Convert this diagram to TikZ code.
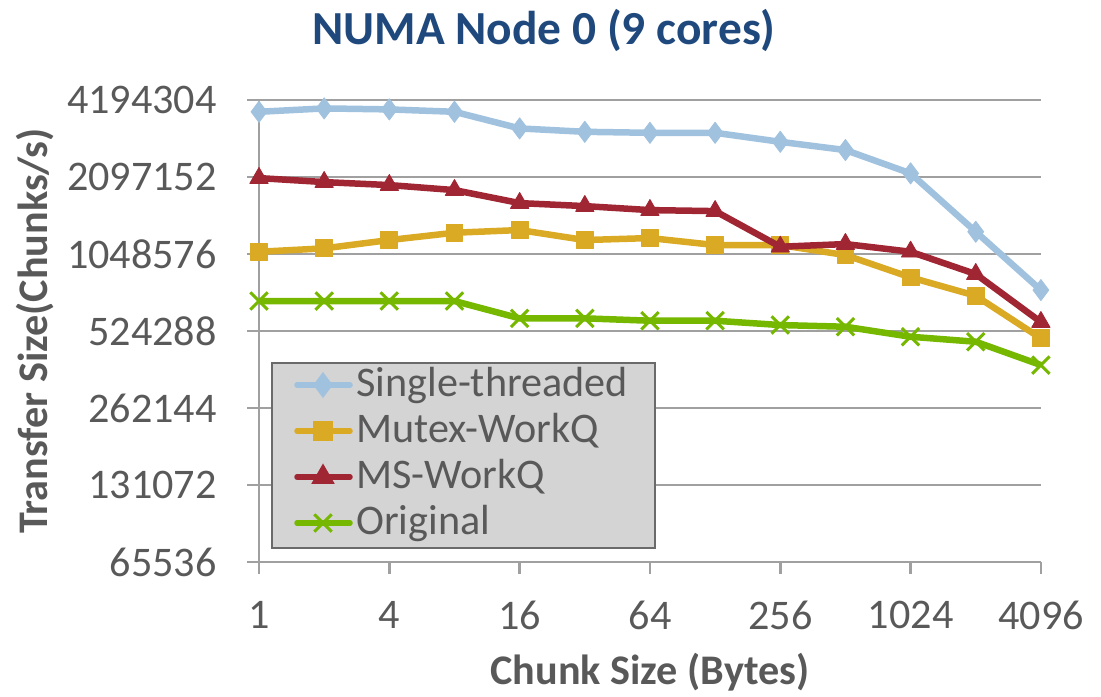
\documentclass[tikz,border=0pt]{standalone}
\usepackage{fontspec}
\setmainfont{Carlito}
\usetikzlibrary{plotmarks}

\definecolor{singlecol}{HTML}{A0C2DE}
\definecolor{mutexcol}{HTML}{DAAA24}
\definecolor{mscol}{HTML}{A02633}
\definecolor{origcol}{HTML}{76B800}
\definecolor{gridcol}{HTML}{A0A0A0}
\definecolor{labelcol}{HTML}{595959}
\definecolor{titlecol}{HTML}{1F497D}
\definecolor{legendfill}{HTML}{D4D4D4}
\definecolor{legendedge}{HTML}{6A6A6A}

\tikzset{
	gridline/.style={draw=gridcol, line width=0.05cm},
	ticklabel/.style={text=labelcol, font=\fontsize{24}{28}\selectfont, inner sep=0pt},
	axistitle/.style={text=labelcol, font=\fontsize{24}{28}\selectfont\bfseries, inner sep=0pt},
	series/.style={line width=0.13cm, line join=round, color=#1,
		mark options={solid, fill=#1, draw=#1, line width=0.5pt}},
}

\begin{document}
\begin{tikzpicture}[x=0.02cm, y=-0.02cm]
	
	\useasboundingbox (0,0) rectangle (1101,696);
	
	\node[text=titlecol, font=\fontsize{27}{30}\selectfont\bfseries, inner sep=0pt] (title) at (544,30) {NUMA Node 0 (9 cores)};
	
	\foreach \v [count=\k from 0] in {65536,131072,262144,524288,1048576,2097152,4194304} {
		\draw[gridline] (247,562-77*\k) -- (1041,562-77*\k);
		\node[ticklabel, anchor=east] (ylab\k) at (217,562-77*\k) {\v};
	}
	\draw[gridline] (259,100) -- (259,574);
	\foreach \v [count=\k from 0] in {1,4,16,64,256,1024,4096} {
		\draw[gridline] (259+130.33*\k,562) -- (259+130.33*\k,574);
		\node[ticklabel] (xlab\k) at (259+130.33*\k,615) {\v};
	}
	
	\node[axistitle] (xtitle) at (650,672) {Chunk Size (Bytes)};
	\node[axistitle, rotate=90] (ytitle) at (35,331) {Transfer Size(Chunks/s)};
	
	\begin{scope}[shift={(259,562)}, x=1.3034cm, y=1.54cm]
		\draw[series=singlecol] plot[mark=diamond*, mark size=6pt] coordinates {(0,5.848) (1,5.892) (2,5.879) (3,5.848) (4,5.632) (5,5.588) (6,5.575) (7,5.575) (8,5.458) (9,5.351) (10,5.048) (11,4.290) (12,3.532)};
		\draw[series=mutexcol] plot[mark=square*, mark size=4.8pt] coordinates {(0,4.030) (1,4.074) (2,4.182) (3,4.277) (4,4.312) (5,4.182) (6,4.208) (7,4.117) (8,4.117) (9,3.987) (10,3.697) (11,3.458) (12,2.905)};
		\draw[series=mscol] plot[mark=triangle*, mark size=6pt] coordinates {(0,4.987) (1,4.935) (2,4.896) (3,4.831) (4,4.662) (5,4.623) (6,4.571) (7,4.558) (8,4.095) (9,4.130) (10,4.030) (11,3.740) (12,3.117)};
		\draw[series=origcol] plot[mark=x, mark size=7pt, mark options={line width=0.06cm}] coordinates {(0,3.390) (1,3.390) (2,3.390) (3,3.390) (4,3.165) (5,3.165) (6,3.134) (7,3.134) (8,3.078) (9,3.056) (10,2.926) (11,2.861) (12,2.558)};
	\end{scope}
	
	\draw[fill=legendfill, draw=legendedge, line width=0.045cm] (272,363) rectangle (655,548);
	\foreach \name/\col/\mk/\ms [count=\k from 0] in {Single-threaded/singlecol/diamond*/6pt, Mutex-WorkQ/mutexcol/square*/4.8pt, MS-WorkQ/mscol/triangle*/6pt, Original/origcol/x/7pt} {
		\draw[color=\col, line width=0.11cm, line cap=round] (297,385+46*\k) -- (350,385+46*\k);
		\draw[color=\col] plot[mark=\mk, mark size=\ms, mark options={fill=\col, line width=0.06cm}] coordinates {(323,385+46*\k)};
		\node[ticklabel, anchor=west] (leg\k) at (356,385+46*\k) {\name};
	}
	
\end{tikzpicture}
\end{document}
